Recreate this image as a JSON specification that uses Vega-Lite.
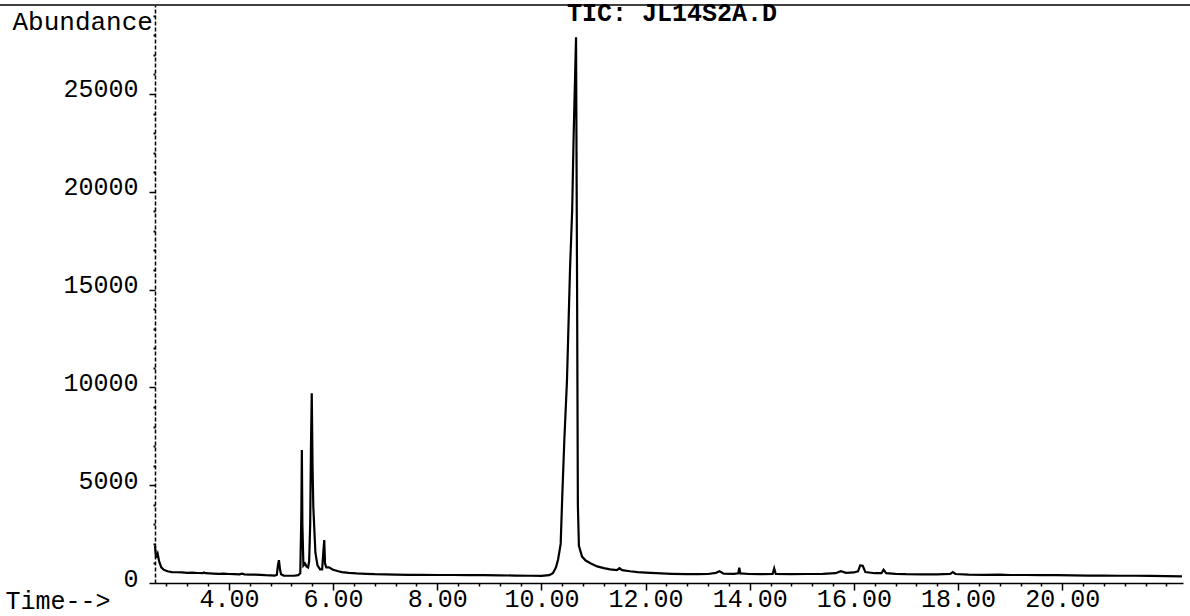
{
  "$schema": "https://vega.github.io/schema/vega-lite/v6.json",
  "width": 1028,
  "height": 578,
  "autosize": {"type": "none"},
  "padding": {"left": 155, "top": 5, "right": 7, "bottom": 33},
  "background": "white",
  "config": {"view": {"stroke": null}, "font": "Liberation Mono", "axis": {"labelOverlap": false, "labelFlush": false, "labelBound": false}},
  "title": {"text": "TIC: JL14S2A.D", "font": "Liberation Mono", "fontSize": 25, "fontWeight": "bold", "anchor": "middle", "baseline": "middle", "offset": 0, "dy": 34, "dx": 3, "color": "black"},
  "resolve": {"scale": {"x": "independent", "y": "independent"}, "axis": {"x": "independent", "y": "independent"}},
  "layer": [
    {
      "data": {"values": [
        {"time": 2.58, "abundance": 1900}, {"time": 2.6, "abundance": 1300}, {"time": 2.63, "abundance": 1500}, {"time": 2.66, "abundance": 1100},
        {"time": 2.7, "abundance": 800}, {"time": 2.75, "abundance": 680}, {"time": 2.82, "abundance": 600}, {"time": 2.9, "abundance": 560},
        {"time": 3.0, "abundance": 550}, {"time": 3.1, "abundance": 540}, {"time": 3.2, "abundance": 520}, {"time": 3.3, "abundance": 530},
        {"time": 3.4, "abundance": 510}, {"time": 3.5, "abundance": 500}, {"time": 3.52, "abundance": 540}, {"time": 3.55, "abundance": 500},
        {"time": 3.7, "abundance": 480}, {"time": 3.8, "abundance": 470}, {"time": 3.9, "abundance": 480}, {"time": 4.0, "abundance": 460},
        {"time": 4.1, "abundance": 450}, {"time": 4.2, "abundance": 440}, {"time": 4.25, "abundance": 480}, {"time": 4.3, "abundance": 440},
        {"time": 4.4, "abundance": 430}, {"time": 4.5, "abundance": 430}, {"time": 4.6, "abundance": 420}, {"time": 4.7, "abundance": 400},
        {"time": 4.8, "abundance": 390}, {"time": 4.88, "abundance": 380}, {"time": 4.92, "abundance": 420}, {"time": 4.94, "abundance": 900},
        {"time": 4.96, "abundance": 1170}, {"time": 4.98, "abundance": 700}, {"time": 5.0, "abundance": 450}, {"time": 5.05, "abundance": 380},
        {"time": 5.15, "abundance": 370}, {"time": 5.25, "abundance": 370}, {"time": 5.33, "abundance": 400}, {"time": 5.37, "abundance": 500},
        {"time": 5.39, "abundance": 3500}, {"time": 5.4, "abundance": 6800}, {"time": 5.41, "abundance": 3000}, {"time": 5.43, "abundance": 900},
        {"time": 5.46, "abundance": 1000}, {"time": 5.49, "abundance": 850}, {"time": 5.52, "abundance": 800}, {"time": 5.54, "abundance": 1100},
        {"time": 5.56, "abundance": 3000}, {"time": 5.575, "abundance": 7000}, {"time": 5.59, "abundance": 9700}, {"time": 5.605, "abundance": 6000},
        {"time": 5.62, "abundance": 3900}, {"time": 5.66, "abundance": 1550}, {"time": 5.7, "abundance": 900}, {"time": 5.75, "abundance": 700},
        {"time": 5.79, "abundance": 700}, {"time": 5.81, "abundance": 1500}, {"time": 5.83, "abundance": 2200}, {"time": 5.845, "abundance": 1000},
        {"time": 5.87, "abundance": 800}, {"time": 5.92, "abundance": 800}, {"time": 6.0, "abundance": 680}, {"time": 6.1, "abundance": 600},
        {"time": 6.17, "abundance": 560}, {"time": 6.3, "abundance": 520}, {"time": 6.45, "abundance": 490}, {"time": 6.63, "abundance": 470},
        {"time": 6.8, "abundance": 450}, {"time": 7.0, "abundance": 440}, {"time": 7.2, "abundance": 430}, {"time": 7.45, "abundance": 420},
        {"time": 7.7, "abundance": 420}, {"time": 8.0, "abundance": 410}, {"time": 8.3, "abundance": 410}, {"time": 8.6, "abundance": 400},
        {"time": 8.9, "abundance": 400}, {"time": 9.2, "abundance": 390}, {"time": 9.5, "abundance": 380}, {"time": 9.8, "abundance": 370},
        {"time": 10.0, "abundance": 360}, {"time": 10.15, "abundance": 400}, {"time": 10.22, "abundance": 500}, {"time": 10.28, "abundance": 800},
        {"time": 10.32, "abundance": 1200}, {"time": 10.37, "abundance": 2000}, {"time": 10.4, "abundance": 4400}, {"time": 10.44, "abundance": 7300},
        {"time": 10.49, "abundance": 10300}, {"time": 10.51, "abundance": 12200}, {"time": 10.55, "abundance": 16100}, {"time": 10.59, "abundance": 19000},
        {"time": 10.62, "abundance": 23000}, {"time": 10.665, "abundance": 27900}, {"time": 10.685, "abundance": 15000}, {"time": 10.7, "abundance": 4000},
        {"time": 10.72, "abundance": 1900}, {"time": 10.78, "abundance": 1350}, {"time": 10.85, "abundance": 1150}, {"time": 10.95, "abundance": 1000},
        {"time": 11.07, "abundance": 850}, {"time": 11.2, "abundance": 760}, {"time": 11.32, "abundance": 700}, {"time": 11.45, "abundance": 660},
        {"time": 11.5, "abundance": 760}, {"time": 11.55, "abundance": 660}, {"time": 11.7, "abundance": 600}, {"time": 11.85, "abundance": 560},
        {"time": 12.0, "abundance": 530}, {"time": 12.2, "abundance": 500}, {"time": 12.5, "abundance": 470}, {"time": 12.8, "abundance": 450},
        {"time": 13.0, "abundance": 450}, {"time": 13.2, "abundance": 460}, {"time": 13.35, "abundance": 520}, {"time": 13.42, "abundance": 600},
        {"time": 13.5, "abundance": 480}, {"time": 13.7, "abundance": 470}, {"time": 13.78, "abundance": 500}, {"time": 13.8, "abundance": 780},
        {"time": 13.82, "abundance": 490}, {"time": 14.0, "abundance": 460}, {"time": 14.2, "abundance": 450}, {"time": 14.44, "abundance": 460},
        {"time": 14.47, "abundance": 750}, {"time": 14.5, "abundance": 460}, {"time": 14.8, "abundance": 450}, {"time": 15.1, "abundance": 460},
        {"time": 15.4, "abundance": 470}, {"time": 15.65, "abundance": 500}, {"time": 15.75, "abundance": 600}, {"time": 15.85, "abundance": 520},
        {"time": 16.0, "abundance": 540}, {"time": 16.08, "abundance": 600}, {"time": 16.12, "abundance": 900}, {"time": 16.17, "abundance": 880},
        {"time": 16.22, "abundance": 560}, {"time": 16.4, "abundance": 500}, {"time": 16.53, "abundance": 500}, {"time": 16.57, "abundance": 680},
        {"time": 16.62, "abundance": 500}, {"time": 16.8, "abundance": 470}, {"time": 17.0, "abundance": 450}, {"time": 17.3, "abundance": 440},
        {"time": 17.6, "abundance": 440}, {"time": 17.85, "abundance": 470}, {"time": 17.9, "abundance": 560}, {"time": 17.95, "abundance": 460},
        {"time": 18.2, "abundance": 430}, {"time": 18.5, "abundance": 420}, {"time": 18.8, "abundance": 430}, {"time": 19.0, "abundance": 410},
        {"time": 19.3, "abundance": 410}, {"time": 19.6, "abundance": 400}, {"time": 19.9, "abundance": 400}, {"time": 20.2, "abundance": 390},
        {"time": 20.5, "abundance": 380}, {"time": 20.8, "abundance": 380}, {"time": 21.1, "abundance": 370}, {"time": 21.4, "abundance": 370},
        {"time": 21.7, "abundance": 360}, {"time": 22.0, "abundance": 350}, {"time": 22.3, "abundance": 340}
      ]},
      "mark": {"type": "line", "color": "black", "strokeWidth": 2.2},
      "encoding": {
        "x": {
          "field": "time", "type": "quantitative",
          "scale": {"domain": [2.58, 22.32], "nice": false, "zero": false},
          "axis": {
            "orient": "bottom",
            "title": "Time-->", "titleFont": "Liberation Mono", "titleFontSize": 25, "titleFontWeight": "normal", "titleColor": "black",
            "titleAngle": 0, "titleAlign": "left", "titleBaseline": "middle", "titleX": -150, "titleY": 17,
            "values": [4, 6, 8, 10, 12, 14, 16, 18, 20],
            "format": ".2f",
            "tickSize": 7,
            "labelFont": "Liberation Mono", "labelFontSize": 25, "labelColor": "black", "labelPadding": -4,
            "labelOverlap": false, "labelFlush": false, "labelBound": false,
            "domainColor": "black", "domainWidth": 1.5, "tickColor": "black", "tickWidth": 1.5, "grid": false
          }
        },
        "y": {
          "field": "abundance", "type": "quantitative",
          "scale": {"domain": [0, 29550], "nice": false},
          "axis": {
            "orient": "left",
            "title": "Abundance", "titleFont": "Liberation Mono", "titleFontSize": 26, "titleFontWeight": "normal", "titleColor": "black",
            "titleAngle": 0, "titleAlign": "left", "titleBaseline": "middle", "titleX": -143, "titleY": 16,
            "values": [0, 5000, 10000, 15000, 20000, 25000],
            "format": "d",
            "tickSize": 6,
            "labelFont": "Liberation Mono", "labelFontSize": 25, "labelColor": "black", "labelPadding": 11, "labelOffset": -5,
            "labelOverlap": false, "labelFlush": false, "labelBound": false,
            "domainColor": "black", "domainWidth": 1.5, "domainDash": [4, 2], "tickColor": "black", "tickWidth": 1.5, "grid": false
          }
        }
      }
    },
    {
      "data": {"values": [{}]},
      "mark": {"type": "rule", "color": "black", "strokeWidth": 1.5},
      "encoding": {
        "x": {
          "datum": -0.4, "type": "quantitative",
          "scale": {"domain": [2.58, 22.32], "nice": false, "zero": false},
          "axis": {
            "orient": "bottom", "title": null, "labels": false, "domain": false,
            "values": [2.8, 3.2, 3.6, 4.4, 4.8, 5.2, 5.6, 6.4, 6.8, 7.2, 7.6, 8.4, 8.8, 9.2, 9.6, 10.4, 10.8, 11.2, 11.6, 12.4, 12.8, 13.2, 13.6, 14.4, 14.8, 15.2, 15.6, 16.4, 16.8, 17.2, 17.6, 18.4, 18.8, 19.2, 19.6, 20.4, 20.8, 21.2, 21.6, 22],
            "tickSize": 3, "tickColor": "black", "tickWidth": 1.5, "grid": false
          }
        },
        "x2": {"datum": 22.46},
        "y": {
          "datum": 29550, "type": "quantitative",
          "scale": {"domain": [0, 29550], "nice": false},
          "axis": {
            "orient": "left", "title": null, "labels": false, "domain": false,
            "values": [1000, 2000, 3000, 4000, 6000, 7000, 8000, 9000, 11000, 12000, 13000, 14000, 16000, 17000, 18000, 19000, 21000, 22000, 23000, 24000, 26000, 27000, 28000, 29000],
            "tickSize": 2, "tickColor": "black", "tickWidth": 2, "grid": false
          }
        }
      }
    }
  ]
}
